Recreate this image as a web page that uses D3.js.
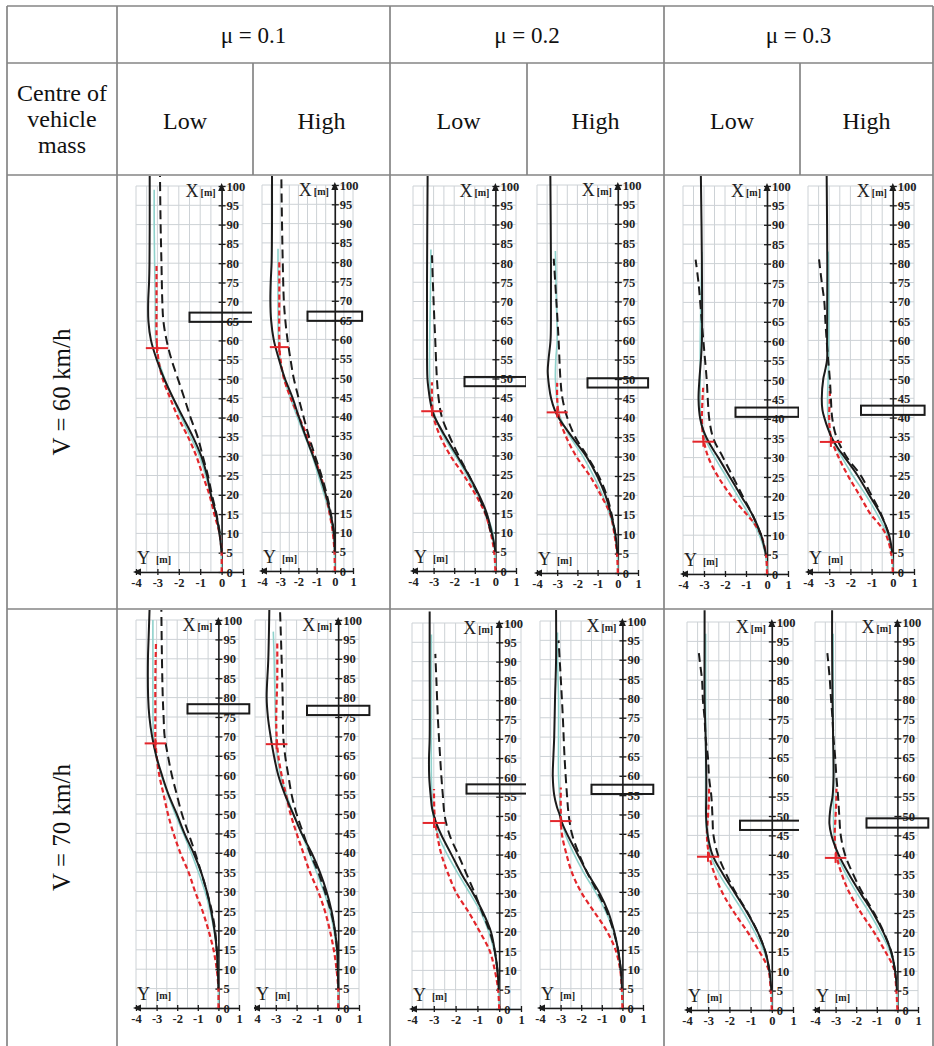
<!DOCTYPE html>
<html>
<head>
<meta charset="utf-8">
<script src="https://cdn.jsdelivr.net/npm/d3@7"></script>
<style>
  html, body { margin: 0; padding: 0; background: #fff; }
  svg { display: block; }
  text { font-family: "Liberation Serif", "Times New Roman", Times, "DejaVu Serif", serif; }
</style>
</head>
<body>
<svg id="chart" width="934" height="1046"></svg>
<script>
// ---- categories ----
const frictions = ["μ = 0.1", "μ = 0.2", "μ = 0.3"];
const massCentres = ["Low", "High"];
const speeds = ["V = 60 km/h", "V = 70 km/h"];
const rowHeader = ["Centre of", "vehicle", "mass"];

// ---- axis tick values ----
const lateralTicks = [-4, -3, -2, -1, 0, 1];
const travelTicks = [0, 5, 10, 15, 20, 25, 30, 35, 40, 45, 50, 55, 60, 65, 70, 75, 80, 85, 90, 95, 100];

// Panel order: V60 (μ0.1 Low, μ0.1 High, μ0.2 Low, μ0.2 High, μ0.3 Low, μ0.3 High), then V70 in the same order.
// Every point is [X travel (m), Y lateral (m)].

// black solid: vehicle trajectory
const solidTracks = [
  [[5,0],[10,-0.1],[15,-0.26],[20,-0.5],[25,-0.68],[30,-0.95],[35,-1.34],[40,-1.8],[45,-2.26],[50,-2.68],[55,-3.03],[60,-3.3],[65,-3.42],[70,-3.43],[75,-3.39],[80,-3.37],[90,-3.36],[103,-3.36]],
  [[5,0],[10,-0.05],[15,-0.24],[20,-0.51],[25,-0.84],[30,-1.21],[35,-1.61],[40,-1.98],[45,-2.33],[50,-2.75],[55,-3.08],[60,-3.36],[65,-3.5],[70,-3.54],[75,-3.52],[80,-3.47],[90,-3.45],[103,-3.45]],
  [[5,0],[7,-0.06],[10,-0.18],[15,-0.42],[20,-0.82],[25,-1.31],[30,-1.87],[35,-2.44],[40,-2.95],[42,-3.08],[45,-3.19],[47,-3.24],[50,-3.3],[60,-3.32],[75,-3.32],[103,-3.29]],
  [[5,-0.02],[10,-0.12],[15,-0.33],[20,-0.61],[25,-1.02],[30,-1.55],[35,-2.26],[40,-2.93],[42,-3.12],[45,-3.3],[48,-3.4],[52,-3.47],[55,-3.43],[60,-3.33],[65,-3.31],[80,-3.31],[103,-3.34]],
  [[5,-0.05],[7,-0.13],[10,-0.28],[15,-0.67],[20,-1.22],[25,-1.77],[30,-2.32],[32,-2.56],[35,-2.87],[37,-3.03],[40,-3.18],[45,-3.26],[50,-3.22],[55,-3.15],[60,-3.1],[80,-3.1],[103,-3.15]],
  [[5,-0.02],[10,-0.2],[15,-0.58],[20,-1.12],[25,-1.66],[30,-2.31],[32,-2.58],[35,-2.9],[37,-3.05],[40,-3.23],[42,-3.32],[45,-3.35],[50,-3.28],[52,-3.2],[55,-3.1],[60,-3.1],[80,-3.09],[103,-3.12]],
  [[5,0],[10,-0.03],[15,-0.08],[20,-0.19],[25,-0.35],[30,-0.56],[35,-0.84],[40,-1.21],[45,-1.65],[50,-2.02],[55,-2.42],[60,-2.74],[65,-3.02],[70,-3.22],[75,-3.35],[80,-3.41],[90,-3.42],[95,-3.39],[103,-3.34]],
  [[5,0],[10,-0.02],[15,-0.05],[20,-0.16],[25,-0.32],[30,-0.56],[35,-0.88],[40,-1.28],[45,-1.76],[50,-2.16],[55,-2.56],[60,-2.88],[65,-3.09],[70,-3.25],[75,-3.38],[80,-3.44],[90,-3.36],[103,-3.31]],
  [[5,-0.02],[10,-0.08],[15,-0.2],[20,-0.38],[25,-0.74],[30,-1.2],[35,-1.73],[40,-2.19],[45,-2.65],[48,-2.88],[50,-2.99],[52,-3.08],[55,-3.14],[60,-3.21],[65,-3.22],[70,-3.19],[90,-3.19],[103,-3.19]],
  [[5,-0.02],[10,-0.08],[15,-0.21],[20,-0.41],[25,-0.7],[30,-1.14],[35,-1.71],[40,-2.2],[45,-2.69],[48,-2.94],[50,-3.05],[52,-3.18],[55,-3.31],[60,-3.38],[65,-3.35],[70,-3.31],[80,-3.27],[90,-3.22],[103,-3.22]],
  [[5,-0.02],[10,-0.11],[15,-0.3],[20,-0.66],[25,-1.15],[30,-1.72],[35,-2.3],[40,-2.8],[45,-3.02],[50,-3.1],[55,-3.09],[60,-3.09],[70,-3.12],[80,-3.17],[95,-3.17],[103,-3.17]],
  [[5,-0.02],[10,-0.11],[15,-0.3],[20,-0.68],[25,-1.18],[30,-1.78],[35,-2.35],[40,-2.85],[45,-3.2],[48,-3.3],[52,-3.25],[55,-3.15],[60,-3.1],[70,-3.12],[80,-3.15],[95,-3.17],[103,-3.17]]
];

// black dashed
const dashedTracks = [
  [[10,-0.08],[15,-0.24],[20,-0.45],[25,-0.64],[30,-0.88],[35,-1.12],[40,-1.45],[45,-1.74],[50,-2.04],[55,-2.34],[60,-2.57],[65,-2.72],[70,-2.77],[80,-2.81],[90,-2.85],[103,-2.88]],
  [[10,-0.05],[15,-0.22],[20,-0.45],[25,-0.75],[30,-1.1],[35,-1.43],[40,-1.72],[45,-2.0],[50,-2.26],[55,-2.44],[60,-2.6],[65,-2.72],[70,-2.8],[80,-2.86],[90,-2.9],[103,-2.94]],
  [[10,-0.22],[15,-0.48],[20,-0.86],[25,-1.3],[30,-1.79],[35,-2.23],[40,-2.6],[45,-2.76],[50,-2.84],[60,-2.92],[70,-3.0],[82,-3.08]],
  [[10,-0.12],[15,-0.3],[20,-0.55],[25,-0.95],[30,-1.5],[35,-2.1],[40,-2.5],[45,-2.74],[50,-2.84],[60,-2.93],[70,-3.04],[81,-3.17]],
  [[10,-0.28],[15,-0.67],[20,-1.15],[25,-1.62],[30,-2.09],[35,-2.56],[40,-2.75],[45,-2.82],[50,-2.87],[57,-2.98],[62,-3.06],[70,-3.18],[75,-3.26],[81,-3.4]],
  [[10,-0.2],[15,-0.55],[20,-1.02],[25,-1.51],[30,-2.2],[35,-2.66],[40,-2.86],[45,-2.92],[50,-2.97],[55,-3.05],[60,-3.12],[65,-3.18],[70,-3.23],[75,-3.35],[81,-3.48]],
  [[10,-0.03],[15,-0.08],[20,-0.16],[25,-0.32],[30,-0.56],[35,-0.84],[40,-1.13],[45,-1.45],[50,-1.77],[55,-2.02],[60,-2.26],[65,-2.45],[70,-2.61],[75,-2.66],[80,-2.7],[90,-2.74],[103,-2.77]],
  [[15,-0.05],[20,-0.16],[25,-0.36],[30,-0.64],[35,-0.96],[40,-1.36],[45,-1.68],[50,-2.0],[55,-2.24],[60,-2.4],[65,-2.55],[70,-2.64],[80,-2.67],[90,-2.72],[103,-2.8]],
  [[10,-0.08],[15,-0.2],[20,-0.43],[25,-0.78],[30,-1.12],[35,-1.5],[40,-1.88],[45,-2.27],[50,-2.5],[55,-2.58],[60,-2.65],[70,-2.76],[75,-2.81],[85,-2.88],[92,-2.93]],
  [[10,-0.08],[15,-0.21],[20,-0.44],[25,-0.76],[30,-1.22],[35,-1.71],[40,-2.12],[45,-2.45],[50,-2.61],[55,-2.69],[65,-2.81],[75,-2.89],[85,-2.99],[95,-3.1]],
  [[10,-0.11],[15,-0.3],[20,-0.66],[25,-1.13],[30,-1.68],[35,-2.15],[40,-2.54],[45,-2.75],[50,-2.8],[55,-2.85],[60,-2.96],[65,-3.01],[70,-3.12],[75,-3.17],[80,-3.25],[85,-3.29],[90,-3.4],[92,-3.44]],
  [[10,-0.11],[15,-0.3],[20,-0.66],[25,-1.13],[30,-1.68],[35,-2.15],[40,-2.54],[45,-2.75],[50,-2.82],[55,-2.88],[60,-2.96],[65,-3.02],[70,-3.1],[75,-3.15],[80,-3.22],[85,-3.28],[92,-3.4]]
];

// red dashed
const redTracks = [
  [[0,0],[5,0],[10,-0.1],[15,-0.34],[20,-0.57],[25,-0.88],[30,-1.18],[35,-1.57],[40,-2.03],[45,-2.4],[50,-2.75],[55,-2.95],[60,-3.03],[70,-3.04],[80,-3.04]],
  [[0,0],[5,-0.02],[10,-0.11],[15,-0.29],[20,-0.51],[25,-0.79],[30,-1.16],[35,-1.52],[40,-1.98],[45,-2.44],[50,-2.8],[55,-2.99],[60,-3.05],[70,-3.05],[80,-3.05]],
  [[0,0],[5,-0.06],[10,-0.23],[15,-0.5],[20,-0.98],[25,-1.55],[30,-2.19],[35,-2.68],[40,-3.0],[45,-3.08],[49,-3.08]],
  [[0,0],[5,-0.04],[10,-0.17],[15,-0.36],[20,-0.83],[25,-1.38],[30,-2.05],[35,-2.55],[40,-2.9],[45,-3.0],[49,-3.0]],
  [[0,0],[5,-0.05],[10,-0.28],[13,-0.6],[15,-0.91],[20,-1.69],[25,-2.32],[30,-2.79],[35,-3.03],[40,-3.1],[45,-3.07],[48,-3.04]],
  [[0,0],[5,-0.08],[10,-0.35],[13,-0.74],[15,-1.05],[20,-1.58],[25,-2.12],[30,-2.58],[35,-2.92],[40,-3.0],[45,-2.97],[48,-2.97]],
  [[0,0],[5,0],[10,-0.08],[15,-0.24],[20,-0.48],[25,-0.77],[30,-1.13],[35,-1.45],[40,-1.85],[45,-2.18],[50,-2.45],[55,-2.66],[60,-2.87],[65,-3.0],[70,-3.06],[75,-3.06],[85,-3.06],[94,-3.03]],
  [[0,0],[5,0],[10,-0.08],[15,-0.21],[20,-0.4],[25,-0.64],[30,-0.96],[35,-1.36],[40,-1.68],[45,-2.0],[50,-2.29],[55,-2.51],[60,-2.72],[65,-2.88],[70,-2.96],[75,-2.98],[85,-2.93],[94,-2.93]],
  [[0,0],[5,-0.05],[10,-0.2],[15,-0.43],[20,-0.89],[25,-1.39],[30,-1.96],[35,-2.34],[40,-2.65],[45,-2.84],[50,-2.96],[55,-2.99],[57,-2.99]],
  [[0,0],[5,-0.03],[10,-0.11],[15,-0.33],[20,-0.77],[25,-1.39],[30,-2.01],[35,-2.45],[40,-2.73],[45,-2.94],[50,-2.99],[57,-2.99]],
  [[0,0],[5,-0.05],[10,-0.14],[12,-0.27],[15,-0.58],[20,-1.13],[25,-1.76],[30,-2.31],[35,-2.7],[40,-2.96],[45,-3.06],[50,-3.01],[55,-2.96],[57,-2.96]],
  [[0,0],[5,-0.05],[10,-0.14],[12,-0.27],[15,-0.58],[20,-1.13],[25,-1.76],[30,-2.31],[35,-2.7],[40,-2.96],[45,-3.04],[50,-3.0],[55,-2.96],[57,-2.96]]
];

// light teal solid
const tealTracks = [
  [[1,0],[5,-0.02],[10,-0.07],[15,-0.25],[20,-0.5],[25,-0.75],[30,-1.03],[35,-1.45],[40,-1.88],[45,-2.28],[50,-2.65],[55,-2.95],[60,-3.08],[70,-3.1],[80,-3.13],[90,-3.15],[99,-3.15]],
  [[1,0],[5,-0.02],[10,-0.08],[15,-0.3],[20,-0.6],[25,-0.92],[30,-1.25],[35,-1.65],[40,-2.07],[45,-2.45],[50,-2.8],[55,-3.02],[60,-3.1],[70,-3.12],[83.5,-3.12]],
  [[1,0],[5,-0.03],[10,-0.13],[15,-0.45],[20,-0.9],[25,-1.39],[30,-1.95],[35,-2.52],[40,-2.92],[45,-3.13],[50,-3.19],[60,-3.19],[70,-3.16],[83.5,-3.13]],
  [[1,0],[5,-0.03],[10,-0.14],[15,-0.4],[20,-0.75],[25,-1.2],[30,-1.72],[35,-2.35],[40,-2.84],[45,-3.02],[50,-3.09],[55,-3.07],[60,-3.0],[70,-3.04],[83,-3.09]],
  [[1,0],[5,-0.08],[10,-0.36],[15,-0.83],[20,-1.38],[25,-1.93],[30,-2.48],[35,-2.95],[40,-3.15],[45,-3.18],[50,-3.18],[60,-3.18],[70,-3.15],[83,-3.1]],
  [[1,0],[5,-0.05],[10,-0.28],[15,-0.74],[20,-1.28],[25,-1.89],[30,-2.43],[35,-2.9],[40,-3.05],[45,-3.08],[50,-3.05],[60,-3.02],[70,-3.02],[83,-3.05]],
  [[1,0],[5,0],[10,-0.03],[15,-0.08],[20,-0.21],[25,-0.4],[30,-0.65],[35,-0.97],[40,-1.32],[45,-1.7],[50,-2.1],[55,-2.45],[60,-2.77],[65,-3.03],[70,-3.15],[80,-3.18],[90,-3.18],[100,-3.18]],
  [[1,0],[5,0],[10,-0.02],[15,-0.08],[20,-0.21],[25,-0.4],[30,-0.69],[35,-1.04],[40,-1.39],[45,-1.77],[50,-2.16],[55,-2.48],[60,-2.77],[65,-2.93],[70,-2.99],[80,-3.04],[90,-3.08],[97,-3.12]],
  [[1,0],[5,-0.02],[10,-0.08],[15,-0.23],[20,-0.48],[25,-0.84],[30,-1.35],[35,-1.88],[40,-2.38],[45,-2.8],[50,-3.03],[55,-3.08],[60,-3.11],[80,-3.11],[97,-3.11]],
  [[1,0],[5,-0.02],[10,-0.08],[15,-0.21],[20,-0.44],[25,-0.82],[30,-1.31],[35,-1.88],[40,-2.37],[45,-2.78],[50,-2.99],[55,-3.05],[60,-3.1],[70,-3.1],[80,-3.1],[90,-3.15],[97,-3.15]],
  [[1,0],[5,-0.02],[10,-0.1],[15,-0.36],[20,-0.8],[25,-1.32],[30,-1.9],[35,-2.48],[40,-2.9],[45,-3.06],[50,-3.12],[60,-3.12],[80,-3.12],[97,-3.12]],
  [[1,0],[5,-0.02],[10,-0.1],[15,-0.36],[20,-0.82],[25,-1.35],[30,-1.95],[35,-2.5],[40,-2.92],[45,-3.08],[50,-3.1],[60,-3.1],[80,-3.12],[97,-3.12]]
];

// red cross marker: [Y lateral, X travel]
const crossMarks = [
  [-3.02, 58], [-3.05, 58], [-3.08, 41.5], [-3.0, 41.4], [-3.03, 34.1], [-2.92, 33.7],
  [-3.06, 68.2], [-2.96, 68], [-2.99, 48.2], [-2.99, 48.3], [-3.01, 39.5], [-3.0, 39.2]
];

// obstacle centre along X (m), spanning Y from -1.5 to 1.5
const obstacleX = [66, 66, 49.2, 49, 41.7, 41.9, 77.1, 76.7, 57, 56.5, 47.6, 48.2];
const obstacleSpan = [-1.5, 1.5];
const obstacleDepth = 2.4;

// ---- layout ----
const serif = '"Liberation Serif", "Times New Roman", Times, "DejaVu Serif", serif';
const tableCols = [7, 117, 253, 390, 527, 664, 800, 933];
const tableRows = [6, 63, 175, 609, 1046];
// pixel frame of each plot: [x at Y=-4, x at Y=1, y at X=100, y at X=0]
const plotFrames = [
  [136, 243, 186, 572], [262, 353, 185, 571], [413, 516, 186, 571],
  [537, 638, 185, 573], [683, 788, 186, 574], [808, 914, 186, 572],
  [136, 239, 620, 1008], [255, 359, 620, 1008], [412, 521, 623, 1009],
  [540, 643, 621, 1008], [687, 793, 622, 1010], [815, 918, 622, 1010]
];

const ruleColor = "#858585";
const gridColor = "#cdd2d6";
const ink = "#1b1b1b";
const red = "#e3262b";
const teal = "#8fd2cc";

const svg = d3.select("#chart");
const defs = svg.append("defs");

// ---- table rules ----
const rules = svg.append("g").attr("stroke", ruleColor).attr("stroke-width", 1.7);
[tableRows[0], tableRows[1], tableRows[2], tableRows[3]].forEach(yy => {
  rules.append("line").attr("x1", tableCols[0]).attr("x2", tableCols[7]).attr("y1", yy).attr("y2", yy);
});
[tableCols[0], tableCols[1], tableCols[3], tableCols[5], tableCols[7]].forEach(xx => {
  rules.append("line").attr("x1", xx).attr("x2", xx).attr("y1", tableRows[0]).attr("y2", tableRows[4]);
});
[tableCols[2], tableCols[4], tableCols[6]].forEach(xx => {
  rules.append("line").attr("x1", xx).attr("x2", xx).attr("y1", tableRows[1]).attr("y2", tableRows[2]);
});

// ---- header texts ----
const head = svg.append("g").attr("fill", "#111").attr("text-anchor", "middle")
  .attr("font-family", serif);
frictions.forEach((f, i) => {
  head.append("text")
    .attr("x", (tableCols[1 + i * 2] + tableCols[3 + i * 2]) / 2)
    .attr("y", 43).attr("font-size", 23).text(f);
  massCentres.forEach((m, j) => {
    const c = 1 + i * 2 + j;
    head.append("text")
      .attr("x", (tableCols[c] + tableCols[c + 1]) / 2)
      .attr("y", 129).attr("font-size", 24).text(m);
  });
});
rowHeader.forEach((t, i) => {
  head.append("text").attr("x", (tableCols[0] + tableCols[1]) / 2)
    .attr("y", 101 + i * 26).attr("font-size", 24).text(t);
});
speeds.forEach((s, i) => {
  const cy = (tableRows[2 + i] + tableRows[3 + i]) / 2;
  head.append("text")
    .attr("transform", `translate(${(tableCols[0] + tableCols[1]) / 2 + 8},${cy}) rotate(-90)`)
    .attr("font-size", 25).text(s);
});

// ---- panels ----
const lineGen = (x, y) => d3.line()
  .x(d => x(d[1])).y(d => y(d[0]))
  .curve(d3.curveCatmullRom.alpha(0.5));

plotFrames.forEach((frame, i) => {
  const [xl, xr, yt, yb] = frame;
  const s = Math.floor(i / 6);
  const col = 1 + (i % 6);
  const x = d3.scaleLinear().domain([-4, 1]).range([xl, xr]);
  const y = d3.scaleLinear().domain([0, 100]).range([yb, yt]);

  const clipId = "cell" + i;
  defs.append("clipPath").attr("id", clipId).append("rect")
    .attr("x", tableCols[col] + 1).attr("y", tableRows[2 + s] + 1)
    .attr("width", tableCols[col + 1] - tableCols[col] - 2)
    .attr("height", tableRows[3 + s] - tableRows[2 + s] - 2);

  const g = svg.append("g").attr("clip-path", `url(#${clipId})`);

  // grid
  const grid = g.append("g").attr("stroke", gridColor).attr("stroke-width", 1);
  d3.range(-4, 1.001, 0.5).forEach(v => {
    grid.append("line").attr("x1", x(v)).attr("x2", x(v)).attr("y1", y(0)).attr("y2", y(100));
  });
  travelTicks.forEach(v => {
    grid.append("line").attr("x1", x(-4)).attr("x2", x(1)).attr("y1", y(v)).attr("y2", y(v));
  });

  // vertical X axis at Y = 0
  const ax = g.append("g").attr("transform", `translate(${x(0)},0)`)
    .call(d3.axisRight(y).tickValues(travelTicks).tickSize(4).tickSizeOuter(0).tickPadding(1).tickFormat(d => d));
  ax.attr("font-family", serif);
  ax.select(".domain").attr("stroke", ink).attr("stroke-width", 1.6);
  ax.selectAll(".tick line").attr("stroke", ink).attr("stroke-width", 1.3);
  ax.selectAll(".tick text").attr("font-size", 12.5)
    .attr("font-weight", "bold").attr("fill", "#222");
  const axl = g.append("g").attr("transform", `translate(${x(0)},0)`)
    .call(d3.axisLeft(y).tickValues(travelTicks).tickSize(3).tickFormat(""));
  axl.select(".domain").remove();
  axl.selectAll(".tick line").attr("stroke", ink).attr("stroke-width", 1.3);

  // horizontal Y axis at X = 0
  const ay = g.append("g").attr("transform", `translate(0,${y(0)})`)
    .call(d3.axisBottom(x).tickValues(lateralTicks).tickSize(3).tickSizeOuter(0).tickPadding(3).tickFormat(d => String(d)));
  ay.attr("font-family", serif);
  ay.select(".domain").attr("stroke", ink).attr("stroke-width", 1.6);
  ay.selectAll(".tick line").attr("stroke", ink).attr("stroke-width", 1.3);
  ay.selectAll(".tick text").attr("font-size", 12.5)
    .attr("font-weight", "bold").attr("fill", "#222");
  const ayt = g.append("g").attr("transform", `translate(0,${y(0)})`)
    .call(d3.axisTop(x).tickValues(lateralTicks).tickSize(3).tickFormat(""));
  ayt.select(".domain").remove();
  ayt.selectAll(".tick line").attr("stroke", ink).attr("stroke-width", 1.3);

  // arrowheads
  g.append("path").attr("fill", ink)
    .attr("d", `M${x(0)},${y(100) - 3} l-3.5,8 l7,0 Z`);
  g.append("path").attr("fill", ink)
    .attr("d", `M${x(-4) - 3},${y(0)} l8,-3.5 l0,7 Z`);

  // axis names
  const names = g.append("g").attr("font-family", serif).attr("fill", "#222");
  names.append("text").attr("x", x(0) - 23).attr("y", y(100) + 11).attr("text-anchor", "end")
    .attr("font-size", 18).text("X");
  names.append("text").attr("x", x(0) - 21).attr("y", y(100) + 10).attr("font-size", 10)
    .attr("font-weight", "bold").text("[m]");
  names.append("text").attr("x", x(-4) + 1).attr("y", y(0) - 8)
    .attr("font-size", 18).text("Y");
  names.append("text").attr("x", x(-4) + 20).attr("y", y(0) - 9).attr("font-size", 10)
    .attr("font-weight", "bold").text("[m]");

  const line = lineGen(x, y);

  g.append("path").attr("d", line(tealTracks[i])).attr("fill", "none")
    .attr("stroke", teal).attr("stroke-width", 1.6);
  g.append("path").attr("d", line(redTracks[i])).attr("fill", "none")
    .attr("stroke", red).attr("stroke-width", 2.2).attr("stroke-dasharray", "5,3");
  g.append("path").attr("d", line(dashedTracks[i])).attr("fill", "none")
    .attr("stroke", ink).attr("stroke-width", 2).attr("stroke-dasharray", "9,5");
  g.append("path").attr("d", line(solidTracks[i])).attr("fill", "none")
    .attr("stroke", ink).attr("stroke-width", 2);

  // red cross
  const [cyv, cxv] = crossMarks[i];
  g.append("line").attr("x1", x(cyv - 0.52)).attr("x2", x(cyv + 0.52))
    .attr("y1", y(cxv)).attr("y2", y(cxv)).attr("stroke", red).attr("stroke-width", 2);
  g.append("line").attr("x1", x(cyv)).attr("x2", x(cyv))
    .attr("y1", y(cxv - 1.3)).attr("y2", y(cxv + 1.3)).attr("stroke", red).attr("stroke-width", 2);

  // obstacle
  g.append("rect")
    .attr("x", x(obstacleSpan[0])).attr("width", x(obstacleSpan[1]) - x(obstacleSpan[0]))
    .attr("y", y(obstacleX[i] + obstacleDepth / 2))
    .attr("height", y(obstacleX[i] - obstacleDepth / 2) - y(obstacleX[i] + obstacleDepth / 2))
    .attr("fill", "none").attr("stroke", ink).attr("stroke-width", 2);
});
</script>
</body>
</html>
